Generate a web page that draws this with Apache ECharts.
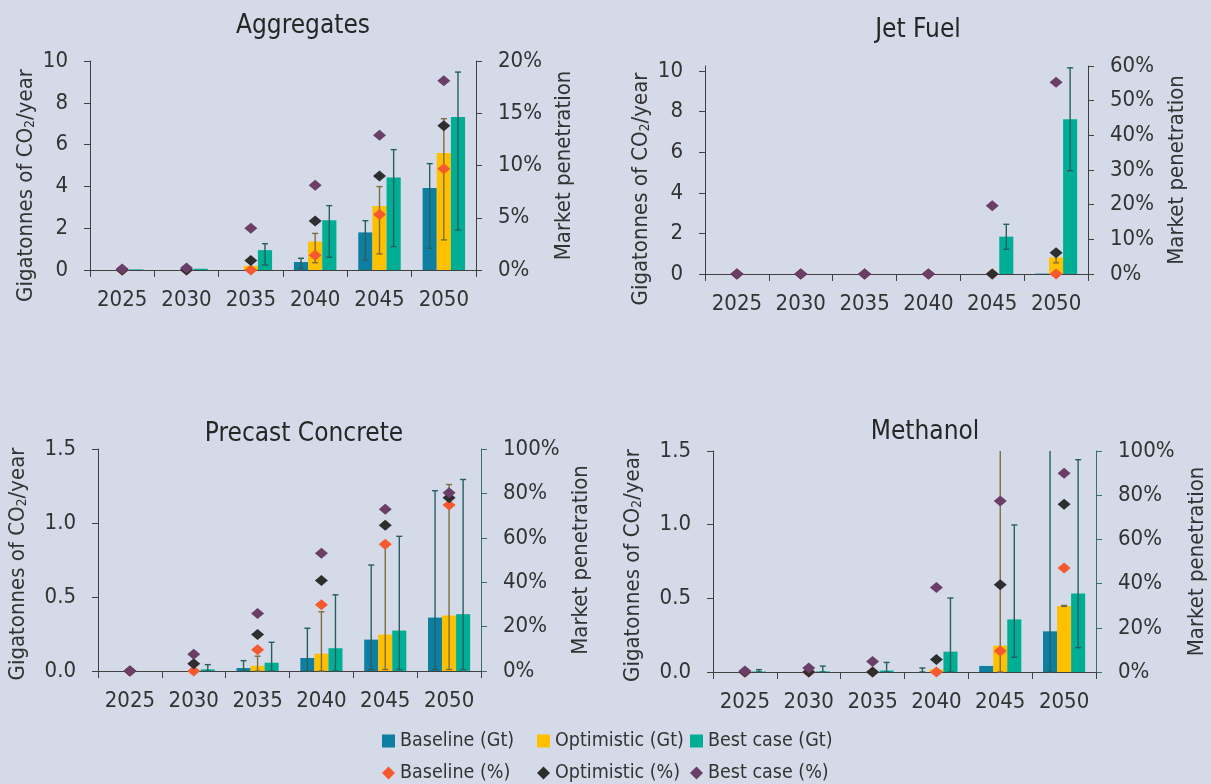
<!DOCTYPE html>
<html>
<head>
<meta charset="utf-8" />
<title>CO2 utilisation potential</title>
<script src="https://cdn.jsdelivr.net/npm/echarts@6/dist/echarts.min.js"></script>
<style>
  html, body, #main { margin: 0; padding: 0; width: 100%; height: 100%; }
  body { background: #d4dae7; }
</style>
</head>
<body>
<div id="main"></div>
<script>
var years = ['2025', '2030', '2035', '2040', '2045', '2050'];

// Aggregates
var aggBaseGt = [0, 0, 0, 0.38, 1.80, 3.92];
var aggOptGt = [0, 0, 0.2, 1.36, 3.06, 5.60];
var aggBestGt = [0.03, 0.06, 0.95, 2.38, 4.42, 7.32];
var aggBaseErr = [null, null, null, [0.08, 0.56], [0.48, 2.36], [1.04, 5.09]];
var aggOptErr = [null, null, null, [0.35, 1.75], [0.77, 3.99], [1.44, 7.24]];
var aggBestErr = [null, null, [0.24, 1.26], [0.61, 3.08], [1.12, 5.76], [1.91, 9.47]];
var aggBasePct = [0, 0, 0, 1.4, 5.3, 9.7];
var aggOptPct = [0, 0, 0.9, 4.7, 9.0, 13.8];
var aggBestPct = [0.1, 0.2, 4.0, 8.1, 12.9, 18.1];

// Jet Fuel
var jetBaseGt = [0, 0, 0, 0, 0, 0.02];
var jetOptGt = [0, 0, 0, 0, 0, 0.82];
var jetBestGt = [0, 0, 0, 0, 1.84, 7.62];
var jetBaseErr = [null, null, null, null, null, null];
var jetOptErr = [null, null, null, null, null, [0.55, 0.95]];
var jetBestErr = [null, null, null, null, [1.22, 2.45], [5.09, 10.16]];
var jetBasePct = [0, 0, 0, 0, 0, 0];
var jetOptPct = [0, 0, 0, 0, 0, 6.1];
var jetBestPct = [0, 0, 0, 0, 19.7, 55.3];

// Precast Concrete
var preBaseGt = [0, 0, 0.02, 0.088, 0.212, 0.361];
var preOptGt = [0, 0, 0.035, 0.117, 0.246, 0.375];
var preBestGt = [0, 0.011, 0.056, 0.154, 0.273, 0.384];
var preBaseErr = [null, null, [0, 0.07], [0, 0.289], [0.01, 0.716], [0.01, 1.218]];
var preOptErr = [null, null, [0, 0.1], [0, 0.40], [0.01, 0.84], [0.01, 1.26]];
var preBestErr = [null, [0, 0.043], [0, 0.194], [0, 0.515], [0.01, 0.91], [0.01, 1.294]];
var preBasePct = [0, 0, 9.6, 29.8, 57.1, 74.8];
var preOptPct = [0, 3.3, 16.4, 40.8, 65.7, 78.0];
var preBestPct = [0, 7.5, 25.9, 53.0, 72.9, 80.3];

// Methanol
var metBaseGt = [0, 0, 0, 0, 0.041, 0.276];
var metOptGt = [0, 0, 0, 0.018, 0.179, 0.448];
var metBestGt = [0.003, 0.004, 0.01, 0.138, 0.357, 0.532];
var metBaseErr = [null, null, null, [0, 0.027], null, [0, 1.7]];
var metOptErr = [null, null, null, null, [0, 1.7], [0.445, 0.452]];
var metBestErr = [[0, 0.016], [0, 0.04], [0, 0.065], [0, 0.502], [0.1, 0.998], [0.165, 1.441]];
var metBasePct = [0, 0, 0, 0, 9.5, 47.1];
var metOptPct = [0, 0, 0, 5.6, 39.5, 75.9];
var metBestPct = [0.5, 1.8, 4.7, 38.2, 77.4, 89.9];

var gtNames = ['Baseline (Gt)', 'Optimistic (Gt)', 'Best case (Gt)'];
var pctNames = ['Baseline (%)', 'Optimistic (%)', 'Best case (%)'];

var FONT = "'DejaVu Sans Condensed', 'Liberation Sans', sans-serif";
var TXT = '#333333';
var BAR_W = 0.22;
var barColors = ['#0e7fa0', '#ffc000', '#00ae96'];
var dotColors = ['#f4592f', '#2e2e2e', '#6b3e68'];
var errColors = ['#265f60', '#7d6c3f', '#265f60'];

var panels = [
  { title: 'Aggregates', tx: 303, ty: 13,
    grid: { left: 90, top: 61, width: 386, height: 209 },
    gtMax: 10, gtStep: 2, gtLabels: [0, 2, 4, 6, 8, 10], dec: 0,
    pctMax: 20, pctStep: 5, leftGap: 53, leftPad: 40, rightGap: 77, rightColor: '#404040',
    gt: [aggBaseGt, aggOptGt, aggBestGt], err: [aggBaseErr, aggOptErr, aggBestErr],
    pct: [aggBasePct, aggOptPct, aggBestPct] },
  { title: 'Jet Fuel', tx: 918, ty: 17,
    grid: { left: 705, top: 66, width: 383, height: 208 },
    gtMax: 10.25, gtStep: 2, gtLabels: [0, 2, 4, 6, 8, 10], dec: 0,
    pctMax: 60, pctStep: 10, leftGap: 53, leftPad: 38, rightGap: 78, rightColor: '#404040',
    gt: [jetBaseGt, jetOptGt, jetBestGt], err: [jetBaseErr, jetOptErr, jetBestErr],
    pct: [jetBasePct, jetOptPct, jetBestPct] },
  { title: 'Precast Concrete', tx: 304, ty: 421,
    grid: { left: 98, top: 449, width: 383, height: 222 },
    gtMax: 1.5, gtStep: 0.5, gtLabels: [0, 0.5, 1, 1.5], dec: 1,
    pctMax: 100, pctStep: 20, leftGap: 69, leftPad: 8, rightGap: 89, rightColor: '#3a6e6e',
    gt: [preBaseGt, preOptGt, preBestGt], err: [preBaseErr, preOptErr, preBestErr],
    pct: [preBasePct, preOptPct, preBestPct] },
  { title: 'Methanol', tx: 925, ty: 419,
    grid: { left: 713, top: 451, width: 383, height: 221 },
    gtMax: 1.5, gtStep: 0.5, gtLabels: [0, 0.5, 1, 1.5], dec: 1,
    pctMax: 100, pctStep: 20, leftGap: 69, leftPad: 8, rightGap: 90, rightColor: '#3a6e6e',
    gt: [metBaseGt, metOptGt, metBestGt], err: [metBaseErr, metOptErr, metBestErr],
    pct: [metBasePct, metOptPct, metBestPct] }
];

function errorBars(k, color) {
  return function (params, api) {
    var cs = params.coordSys;
    var i = api.value(0);
    var x = api.coord([i, 0])[0] + k * api.size([1, 0])[0] * BAR_W;
    var yLo = Math.min(api.coord([i, api.value(1)])[1], cs.y + cs.height);
    var yHi = api.coord([i, api.value(2)])[1];
    var yTop = Math.max(yHi, cs.y);
    var st = { stroke: color, lineWidth: 1.4 };
    var kids = [
      { type: 'line', shape: { x1: x, y1: yLo, x2: x, y2: yTop }, style: st },
      { type: 'line', shape: { x1: x - 3, y1: yLo, x2: x + 3, y2: yLo }, style: st }
    ];
    if (yHi >= cs.y) {
      kids.push({ type: 'line', shape: { x1: x - 3, y1: yHi, x2: x + 3, y2: yHi }, style: st });
    }
    return { type: 'group', children: kids };
  };
}

var titles = [], grids = [], xAxes = [], yAxes = [], series = [];

panels.forEach(function (p, n) {
  titles.push({
    text: p.title, left: p.tx, top: p.ty, textAlign: 'center', padding: 0,
    textStyle: { fontFamily: FONT, fontSize: 26, fontWeight: 'normal', color: '#262626' }
  });
  grids.push(p.grid);
  xAxes.push({
    type: 'category', gridIndex: n, data: years,
    axisLine: { lineStyle: { color: '#404040', width: 1 } },
    axisTick: { show: true, interval: 0, length: 7, lineStyle: { color: '#404040' } },
    axisLabel: { margin: 19, color: TXT, fontFamily: FONT, fontSize: 22, interval: 0 }
  });
  yAxes.push({
    type: 'value', gridIndex: n, position: 'left', min: 0, max: p.gtMax, interval: p.gtStep,
    name: 'Gigatonnes of CO{sub|2}/year', nameLocation: 'middle', nameGap: p.leftGap, nameRotate: 90,
    nameTextStyle: {
      color: TXT, fontFamily: FONT, fontSize: 22, padding: [0, p.leftPad, 0, 0],
      rich: { sub: { fontSize: 14, fontFamily: FONT, color: TXT, verticalAlign: 'bottom', padding: [6, 0, 0, 0] } }
    },
    splitLine: { show: false },
    axisLine: { show: true, lineStyle: { color: '#404040', width: 1 } },
    axisTick: { show: true, length: 6, customValues: p.gtLabels, lineStyle: { color: '#404040' } },
    axisLabel: {
      margin: 22, color: TXT, fontFamily: FONT, fontSize: 22, customValues: p.gtLabels,
      formatter: (function (d) { return function (v) { return v.toFixed(d); }; })(p.dec)
    }
  });
  yAxes.push({
    type: 'value', gridIndex: n, position: 'right', min: 0, max: p.pctMax, interval: p.pctStep,
    name: 'Market penetration', nameLocation: 'middle', nameGap: p.rightGap, nameRotate: 90,
    nameTextStyle: { color: TXT, fontFamily: FONT, fontSize: 22 },
    splitLine: { show: false },
    axisLine: { show: true, lineStyle: { color: p.rightColor, width: 1 } },
    axisTick: { show: true, length: 6, lineStyle: { color: p.rightColor } },
    axisLabel: { margin: 22, color: TXT, fontFamily: FONT, fontSize: 22, formatter: '{value}%' }
  });

  for (var k = 0; k < 3; k++) {
    series.push({
      name: gtNames[k], type: 'bar', xAxisIndex: n, yAxisIndex: 2 * n,
      data: p.gt[k], barWidth: (BAR_W * 100) + '%', barGap: '0%',
      itemStyle: { color: barColors[k] }, z: 2
    });
  }
  for (var k2 = 0; k2 < 3; k2++) {
    var ed = [];
    p.err[k2].forEach(function (e, i) { if (e) ed.push([i, e[0], e[1]]); });
    series.push({
      type: 'custom', xAxisIndex: n, yAxisIndex: 2 * n, data: ed,
      encode: { x: 0, y: [1, 2] }, renderItem: errorBars(k2 - 1, errColors[k2]),
      silent: true, z: 3
    });
  }
  for (var k3 = 0; k3 < 3; k3++) {
    series.push({
      name: pctNames[k3], type: 'scatter', xAxisIndex: n, yAxisIndex: 2 * n + 1,
      data: p.pct[k3], symbol: 'diamond', symbolSize: [13, 11],
      itemStyle: { color: dotColors[k3], opacity: 1 }, z: 5
    });
  }
});

// one legend per entry so the columns line up like the original
var legendCols = [382, 537, 690];
var legends = [];
[gtNames, pctNames].forEach(function (names, row) {
  names.forEach(function (nm, c) {
    legends.push({
      data: [nm], left: legendCols[c], top: row === 0 ? 731 : 763, padding: 0,
      itemWidth: 13, itemHeight: 13, icon: row === 0 ? 'rect' : 'diamond',
      textStyle: { fontFamily: FONT, fontSize: 19.5, color: TXT }
    });
  });
});

var chart = echarts.init(document.getElementById('main'));
chart.setOption({
  backgroundColor: '#d4dae7',
  animation: false,
  title: titles,
  grid: grids,
  xAxis: xAxes,
  yAxis: yAxes,
  legend: legends,
  series: series
});
</script>
</body>
</html>
